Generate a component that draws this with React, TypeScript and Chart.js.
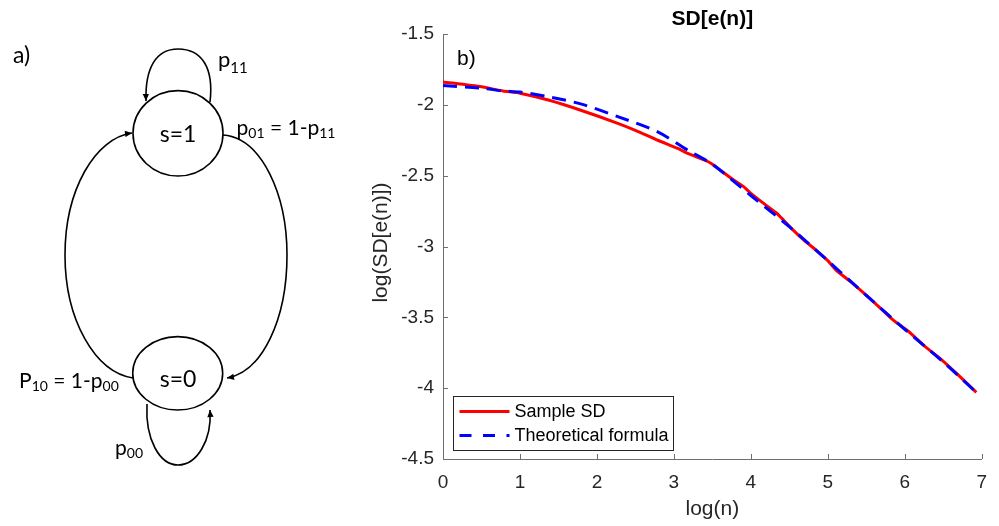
import React, { useEffect, useRef } from "react";
import { Chart, registerables } from "chart.js";

Chart.register(...registerables);

// ---- Data ----
const sampleLogN = [0, 0.5, 0.78, 1.0, 1.38, 1.8, 2.28, 2.5, 2.79, 3.05, 3.18, 3.44, 3.52, 3.6, 3.8, 3.91, 4.0, 4.2, 4.34, 4.4, 4.55, 4.7, 4.85, 5.0, 5.11, 5.3, 5.62, 5.85, 6.05, 6.25, 6.48, 6.7, 6.93];
const sampleSD = [-1.838, -1.873, -1.902, -1.918, -1.968, -2.04, -2.132, -2.18, -2.25, -2.308, -2.343, -2.40, -2.426, -2.46, -2.54, -2.579, -2.625, -2.71, -2.767, -2.80, -2.884, -2.96, -3.027, -3.10, -3.168, -3.25, -3.403, -3.52, -3.60, -3.70, -3.80, -3.91, -4.03];

const theoryLogN = [0, 0.5, 0.78, 1.0, 1.38, 1.8, 2.28, 2.79, 3.18, 3.5, 4.0, 4.5, 5.0, 5.5, 6.0, 6.5, 6.93];
const theorySD = [-1.864, -1.882, -1.902, -1.91, -1.944, -1.995, -2.085, -2.191, -2.32, -2.42, -2.64, -2.86, -3.10, -3.345, -3.585, -3.815, -4.03];

const xTicks = [0, 1, 2, 3, 4, 5, 6, 7];
const yTicks = [-1.5, -2, -2.5, -3, -3.5, -4, -4.5];

const seriesNames = ["Sample SD", "Theoretical formula"];
const chartTitle = "SD[e(n)]";
const xLabel = "log(n)";
const yLabel = "log(SD[e(n)])";
const panelB = "b)";

// ---- Styles ----
const FONT = '"Liberation Sans", Arial, Helvetica, sans-serif';
const DIAG_FONT = 'Lato, "Open Sans", sans-serif';
const AXIS_COLOR = "#6e6e6e";
const TEXT_COLOR = "#262626";
const RED = "#ff0000";
const BLUE = "#0000ff";

const decorPlugin = {
  id: "decor",
  afterDraw(chart: any) {
    const { ctx, chartArea: a, scales } = chart;
    const xs = scales.x;
    const ys = scales.y;
    ctx.save();

    // inward tick marks (MATLAB style)
    ctx.strokeStyle = AXIS_COLOR;
    ctx.lineWidth = 1;
    ctx.beginPath();
    xTicks.forEach((v) => {
      const px = Math.round(xs.getPixelForValue(v)) + 0.5;
      ctx.moveTo(px, a.bottom);
      ctx.lineTo(px, a.bottom - 5);
    });
    yTicks.forEach((v) => {
      const py = Math.round(ys.getPixelForValue(v)) + 0.5;
      ctx.moveTo(a.left, py);
      ctx.lineTo(a.left + 5, py);
    });
    ctx.stroke();

    // title
    ctx.fillStyle = "#000";
    ctx.font = `bold 21px ${FONT}`;
    ctx.textAlign = "center";
    ctx.textBaseline = "middle";
    ctx.fillText(chartTitle, (a.left + a.right) / 2, 19);

    // x axis label
    ctx.fillStyle = TEXT_COLOR;
    ctx.font = `21px ${FONT}`;
    ctx.fillText(xLabel, (a.left + a.right) / 2, a.bottom + 50);

    // y axis label
    ctx.save();
    ctx.translate(a.left - 62, (a.top + a.bottom) / 2 - 4);
    ctx.rotate(-Math.PI / 2);
    ctx.fillText(yLabel, 0, 0);
    ctx.restore();

    // panel label
    ctx.fillStyle = "#000";
    ctx.textAlign = "left";
    ctx.textBaseline = "alphabetic";
    ctx.font = `21px ${FONT}`;
    ctx.fillText(panelB, a.left + 14, a.top + 31);

    // legend
    const bx = Math.round(a.left + 10) + 0.5;
    const by = Math.round(a.bottom - 63) + 0.5;
    const bw = 220;
    const bh = 54;
    ctx.fillStyle = "#fff";
    ctx.fillRect(bx, by, bw, bh);
    ctx.strokeStyle = TEXT_COLOR;
    ctx.lineWidth = 1;
    ctx.strokeRect(bx, by, bw, bh);

    const rows = [
      { color: RED, dash: [] as number[], y: by + 15 },
      { color: BLUE, dash: [12, 11.5], y: by + 39 },
    ];
    rows.forEach((r, i) => {
      ctx.beginPath();
      ctx.setLineDash(r.dash);
      ctx.strokeStyle = r.color;
      ctx.lineWidth = 3;
      ctx.moveTo(bx + 6, r.y);
      ctx.lineTo(bx + 56, r.y);
      ctx.stroke();
      ctx.setLineDash([]);
      ctx.fillStyle = "#000";
      ctx.font = `18px ${FONT}`;
      ctx.textAlign = "left";
      ctx.textBaseline = "middle";
      ctx.fillText(seriesNames[i], bx + 61, r.y + 1);
    });

    ctx.restore();
  },
};

function Diagram() {
  const sw = 1.6;
  return (
    <svg
      width={340}
      height={526}
      style={{ position: "absolute", left: 0, top: 0, pointerEvents: "none" }}
    >
      <defs>
        <marker
          id="ah"
          viewBox="0 0 10 10"
          refX="10"
          refY="5"
          markerWidth="8"
          markerHeight="7"
          markerUnits="userSpaceOnUse"
          orient="auto"
        >
          <path d="M0,0.5 L10,5 L0,9.5 z" fill="#000" />
        </marker>
      </defs>
      <g fontFamily={DIAG_FONT} fill="#000">
        <text x={13} y={63} fontSize={23}>a)</text>

        <ellipse cx={178} cy={133.3} rx={45} ry={42.7} fill="none" stroke="#000" strokeWidth={sw} />
        <ellipse cx={177.7} cy={373.3} rx={45} ry={36.7} fill="none" stroke="#000" strokeWidth={sw} />
        <text x={178} y={141.5} fontSize={23} textAnchor="middle">s=1</text>
        <text x={178} y={386.5} fontSize={23} textAnchor="middle">s=0</text>

        <path d="M 210 102 C 214 68, 202 49, 178 49 C 156 49, 145 68, 146 101" fill="none" stroke="#000" strokeWidth={sw} markerEnd="url(#ah)" />
        <path d="M 223 135 C 262 138, 287 195, 287 255 C 287 320, 262 372, 227 378" fill="none" stroke="#000" strokeWidth={sw} markerEnd="url(#ah)" />
        <path d="M 133 378 C 95 372, 65 320, 65 255 C 65 190, 95 138, 132 133" fill="none" stroke="#000" strokeWidth={sw} markerEnd="url(#ah)" />
        <path d="M 147 404 C 145 440, 160 465, 178 465 C 197 465, 212 440, 210 410" fill="none" stroke="#000" strokeWidth={sw} markerEnd="url(#ah)" />

        <text x={218} y={67} fontSize={22}>
          p<tspan fontSize={15} dy={6}>11</tspan>
        </text>
        <text x={236.5} y={135} fontSize={21}>
          p<tspan fontSize={14} dy={3}>01</tspan>
          <tspan dy={-3}> = 1-p</tspan>
          <tspan fontSize={14} dy={3}>11</tspan>
        </text>
        <text x={19} y={388} fontSize={21}>
          P<tspan fontSize={14} dy={3}>10</tspan>
          <tspan dy={-3}> = 1-p</tspan>
          <tspan fontSize={14} dy={3}>00</tspan>
        </text>
        <text x={115} y={455} fontSize={21}>
          p<tspan fontSize={14} dy={3}>00</tspan>
        </text>
      </g>
    </svg>
  );
}

export default function App() {
  const canvasRef = useRef<HTMLCanvasElement | null>(null);

  useEffect(() => {
    const canvas = canvasRef.current;
    if (!canvas) return;
    const chart = new Chart(canvas, {
      type: "scatter",
      data: {
        datasets: [
          {
            label: seriesNames[0],
            data: sampleLogN.map((x, i) => ({ x, y: sampleSD[i] })),
            showLine: true,
            borderColor: RED,
            backgroundColor: RED,
            borderWidth: 3,
            pointRadius: 0,
            tension: 0.2,
            order: 1,
          },
          {
            label: seriesNames[1],
            data: theoryLogN.map((x, i) => ({ x, y: theorySD[i] })),
            showLine: true,
            borderColor: BLUE,
            backgroundColor: BLUE,
            borderWidth: 3,
            borderDash: [14, 8],
            pointRadius: 0,
            tension: 0.3,
            order: 0,
          },
        ],
      },
      options: {
        animation: false,
        responsive: false,
        maintainAspectRatio: false,
        devicePixelRatio: 1,
        layout: { padding: { left: 360, top: 34, right: 11, bottom: 0 } },
        plugins: {
          legend: { display: false },
          title: { display: false },
          tooltip: { enabled: false },
        },
        scales: {
          x: {
            type: "linear",
            min: 0,
            max: 7,
            afterBuildTicks: (s: any) => {
              s.ticks = xTicks.map((v) => ({ value: v }));
            },
            afterFit: (s: any) => {
              s.height = 67;
            },
            ticks: {
              font: { family: FONT, size: 19 },
              color: TEXT_COLOR,
              padding: 12,
              maxRotation: 0,
              autoSkip: false,
            },
            grid: { display: false, drawTicks: false },
            border: { display: true, color: AXIS_COLOR, width: 1 },
          },
          y: {
            type: "linear",
            min: -4.5,
            max: -1.5,
            afterBuildTicks: (s: any) => {
              s.ticks = yTicks.map((v) => ({ value: v }));
            },
            afterFit: (s: any) => {
              s.width = 83;
            },
            ticks: {
              font: { family: FONT, size: 19 },
              color: TEXT_COLOR,
              padding: 9,
              autoSkip: false,
              callback: (v: any) => String(v),
            },
            grid: { display: false, drawTicks: false },
            border: { display: true, color: AXIS_COLOR, width: 1 },
          },
        },
      },
      plugins: [decorPlugin],
    });
    return () => chart.destroy();
  }, []);

  return (
    <div
      style={{
        position: "absolute",
        left: 0,
        top: 0,
        width: 999,
        height: 526,
        background: "#fff",
        overflow: "hidden",
      }}
    >
      <canvas
        ref={canvasRef}
        width={999}
        height={526}
        style={{ position: "absolute", left: 0, top: 0, display: "block" }}
      />
      <Diagram />
    </div>
  );
}
